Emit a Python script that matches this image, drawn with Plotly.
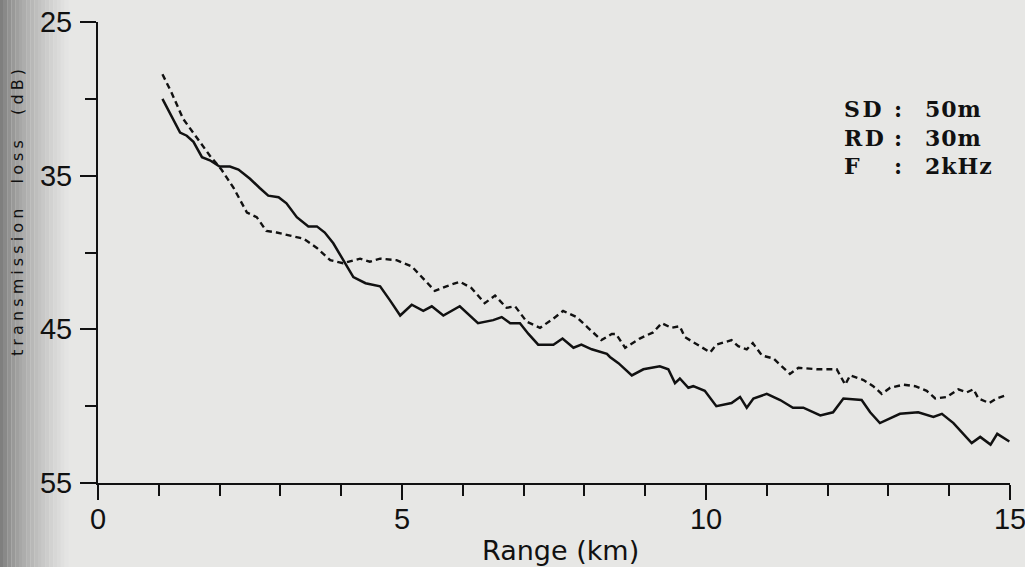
import plotly.graph_objects as go

# ---------------- data ----------------
range_solid = [1.06, 1.35, 1.46, 1.57, 1.71, 1.84, 2.0, 2.17, 2.31, 2.5, 2.66, 2.8, 2.97, 3.1,
               3.27, 3.46, 3.6, 3.73, 3.87, 4.03, 4.2, 4.4, 4.64, 4.8, 4.97, 5.16, 5.35, 5.49,
               5.68, 5.95, 6.12, 6.25, 6.5, 6.64, 6.78, 6.94, 7.08, 7.24, 7.49, 7.64, 7.82,
               7.95, 8.12, 8.37, 8.42, 8.56, 8.78, 8.97, 9.24, 9.38, 9.49, 9.57, 9.71, 9.79,
               9.98, 10.17, 10.42, 10.56, 10.67, 10.78, 11.0, 11.22, 11.43, 11.6, 11.88,
               12.09, 12.26, 12.56, 12.7, 12.86, 13.19, 13.49, 13.74, 13.88, 14.07, 14.37,
               14.51, 14.68, 14.79, 14.99]
tl_solid = [30.0, 32.2, 32.4, 32.8, 33.8, 34.0, 34.4, 34.4, 34.6, 35.2, 35.8, 36.3, 36.4, 36.8,
            37.7, 38.3, 38.3, 38.7, 39.4, 40.5, 41.6, 42.0, 42.2, 43.1, 44.1, 43.4, 43.8, 43.5,
            44.1, 43.5, 44.1, 44.6, 44.4, 44.2, 44.6, 44.6, 45.3, 46.0, 46.0, 45.6, 46.2,
            46.0, 46.3, 46.6, 46.8, 47.2, 48.0, 47.6, 47.4, 47.6, 48.5, 48.2, 48.8, 48.7,
            49.0, 50.0, 49.8, 49.4, 50.1, 49.5, 49.2, 49.6, 50.1, 50.1, 50.6,
            50.4, 49.5, 49.6, 50.4, 51.1, 50.5, 50.4, 50.7, 50.5, 51.1, 52.4,
            52.0, 52.5, 51.8, 52.3]

range_dashed = [1.06, 1.21, 1.4, 1.62, 1.84, 2.03, 2.23, 2.45, 2.61, 2.77, 2.94, 3.16, 3.38,
                3.6, 3.82, 4.03, 4.31, 4.47, 4.64, 4.91, 5.16, 5.35, 5.54, 5.73, 5.95, 6.14,
                6.36, 6.53, 6.72, 6.86, 7.05, 7.27, 7.49, 7.65, 7.87, 8.06, 8.28, 8.45, 8.52,
                8.67, 8.91, 9.13, 9.27, 9.43, 9.57, 9.65, 9.87, 10.07, 10.17, 10.42, 10.53,
                10.67, 10.77, 10.92, 11.11, 11.24, 11.38, 11.52, 11.82, 12.15, 12.29, 12.37,
                12.59, 12.75, 12.89, 13.03, 13.25, 13.44, 13.63, 13.77, 13.96, 14.15, 14.29,
                14.4, 14.48, 14.66, 14.78, 14.93]
tl_dashed = [28.4, 29.6, 31.3, 32.5, 33.7, 34.6, 35.8, 37.4, 37.7, 38.6, 38.7, 38.9, 39.1,
             39.7, 40.5, 40.7, 40.4, 40.6, 40.4, 40.5, 40.9, 41.7, 42.5, 42.2, 41.9, 42.3,
             43.3, 42.8, 43.6, 43.5, 44.5, 44.9, 44.3, 43.8, 44.2, 44.9, 45.7, 45.3, 45.3,
             46.2, 45.6, 45.2, 44.6, 44.9, 44.8, 45.5, 46.0, 46.5, 46.0, 45.7, 46.1,
             46.3, 45.9, 46.7, 46.9, 47.4, 47.9, 47.5, 47.6, 47.6, 48.6, 48.0,
             48.3, 48.7, 49.2, 48.8, 48.6, 48.7, 49.0, 49.5, 49.4, 48.9, 49.1,
             48.9, 49.5, 49.8, 49.5, 49.3]

x_tickvals = [0, 5, 10, 15]
y_tickvals = [25, 35, 45, 55]
param_labels = ["SD", "RD", "F"]
param_values = ["50m", "30m", "2kHz"]
x_title = "Range (km)"
y_title = "transmission loss (dB)"

# ---------------- figure ----------------
W, H = 1025, 567
ML, MR, MT, MB = 98, 15, 22, 84
PW, PH = W - ML - MR, H - MT - MB


def px(xp):
    return (xp - ML) / PW


def py(yp):
    return (H - MB - yp) / PH


BG = "#e7e7e5"
INK = "#111111"

fig = go.Figure()
fig.add_trace(go.Scatter(x=range_dashed, y=tl_dashed, mode="lines",
                         line=dict(color=INK, width=2.4, dash="6px,4px"),
                         showlegend=False, hoverinfo="skip"))
fig.add_trace(go.Scatter(x=range_solid, y=tl_solid, mode="lines",
                         line=dict(color=INK, width=2.5),
                         showlegend=False, hoverinfo="skip"))

tickfont = dict(family="Liberation Sans Narrow, Liberation Sans, Arial", size=29, color=INK)

fig.update_xaxes(range=[0, 15], tickvals=x_tickvals, ticktext=[str(v) for v in x_tickvals],
                 ticks="outside", ticklen=15, tickwidth=2, tickcolor=INK,
                 minor=dict(dtick=1, tick0=0, ticks="outside", ticklen=11, tickwidth=2, tickcolor=INK),
                 showline=True, linewidth=2, linecolor=INK, showgrid=False, zeroline=False,
                 tickfont=tickfont, ticklabelstandoff=-6, ticklabeloverflow="allow",
                 automargin=False)
fig.update_yaxes(range=[55, 25], tickvals=y_tickvals, ticktext=[str(v) for v in y_tickvals],
                 ticks="outside", ticklen=16, tickwidth=2, tickcolor=INK,
                 minor=dict(dtick=5, tick0=25, ticks="outside", ticklen=11, tickwidth=2, tickcolor=INK),
                 showline=True, linewidth=2, linecolor=INK, showgrid=False, zeroline=False,
                 tickfont=tickfont, ticklabelstandoff=2, ticklabeloverflow="allow",
                 automargin=False)

# scanned-page shadow along the left edge
shapes = []
n = 18
for i in range(n):
    x0 = i * 3.8
    x1 = x0 + 3.9
    t = (i + 0.5) / n
    v = int(118 + (231 - 118) * (t ** 0.7))
    shapes.append(dict(type="rect", xref="paper", yref="paper",
                       x0=px(x0), x1=px(x1), y0=py(H), y1=py(0),
                       fillcolor=f"rgb({v},{v},{v - 1})", line=dict(width=0), layer="below"))

annotations = [
    dict(text=x_title, xref="paper", yref="paper", x=px(560), y=py(550),
         xanchor="center", yanchor="middle", showarrow=False,
         font=dict(family="DejaVu Sans", size=27, color=INK)),
    dict(text='<span style="letter-spacing:4.1px;word-spacing:12px">' + y_title + '</span>',
         xref="paper", yref="paper", x=px(17), y=py(211), textangle=-90,
         xanchor="center", yanchor="middle", showarrow=False,
         font=dict(family="DejaVu Sans", size=16, color=INK)),
]


def spaced(lines, sp):
    return "<br>".join('<span style="letter-spacing:%spx">%s</span>' % (sp, s) for s in lines)


# parameter block: three aligned columns, one annotation per column
pfont = dict(family="DejaVu Serif", size=22, color=INK, weight="bold")
block_mid = 137
annotations.append(dict(text=spaced(param_labels, 2.5), xref="paper", yref="paper",
                        x=px(842), y=py(block_mid), xanchor="left", yanchor="middle",
                        align="left", showarrow=False, font=pfont))
annotations.append(dict(text="<br>".join([":"] * len(param_labels)), xref="paper", yref="paper",
                        x=px(898), y=py(block_mid), xanchor="center", yanchor="middle",
                        align="center", showarrow=False, font=pfont))
annotations.append(dict(text=spaced(param_values, 1), xref="paper", yref="paper",
                        x=px(923), y=py(block_mid), xanchor="left", yanchor="middle",
                        align="left", showarrow=False, font=pfont))

fig.update_layout(width=W, height=H, autosize=False,
                  margin=dict(l=ML, r=MR, t=MT, b=MB, pad=0, autoexpand=False),
                  paper_bgcolor=BG, plot_bgcolor=BG,
                  shapes=shapes, annotations=annotations, showlegend=False)

fig.write_html("out.html", config={"displayModeBar": False})
